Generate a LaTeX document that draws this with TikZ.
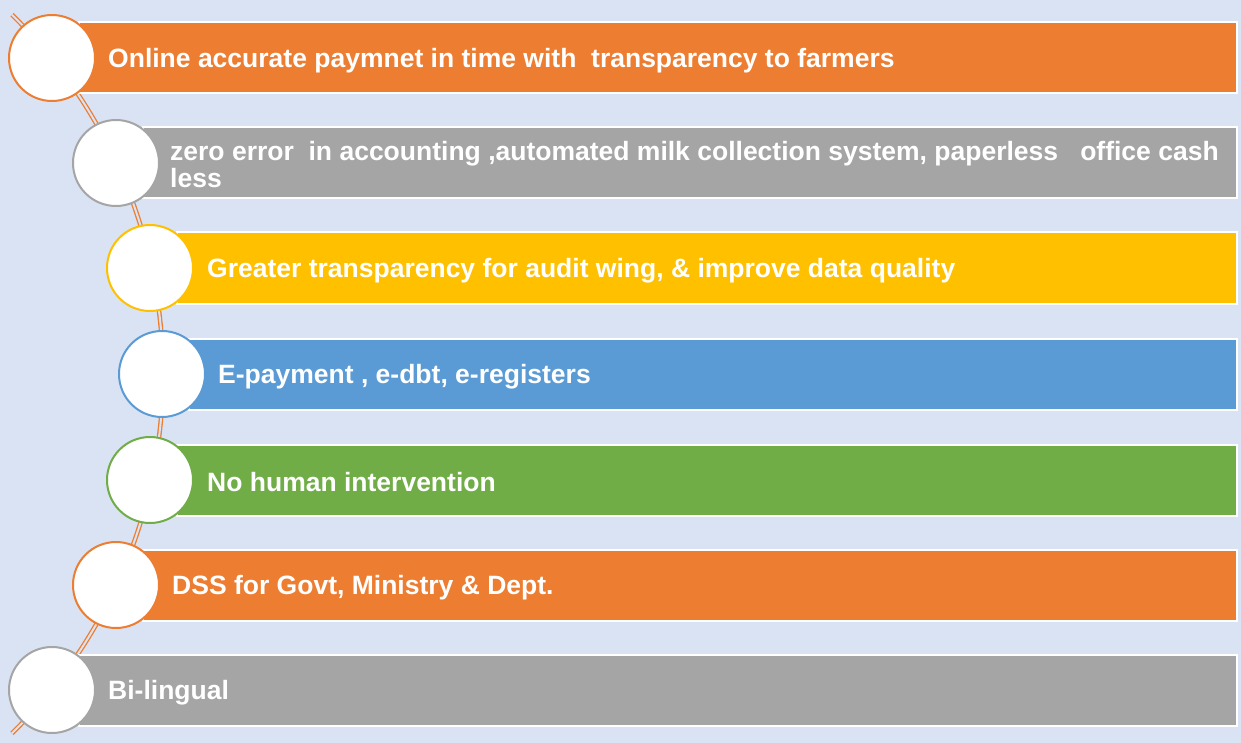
\documentclass[tikz,border=0pt]{standalone}
\usepackage{fontspec}
\setmainfont{Liberation Sans}
\definecolor{bg}{HTML}{DAE3F3}
\definecolor{cOr}{HTML}{ED7D31}
\definecolor{cGr}{HTML}{A5A5A5}
\definecolor{cYe}{HTML}{FFC000}
\definecolor{cBl}{HTML}{5B9BD5}
\definecolor{cGn}{HTML}{70AD47}
\begin{document}
\begin{tikzpicture}[x=1pt,y=-1pt,
  barbox/.style={draw=white,line width=2pt,rectangle,minimum height=71pt,inner sep=0pt,anchor=west},
  dot/.style={circle,draw=#1,fill=white,line width=2pt,minimum size=86pt,inner sep=0pt},
  lab/.style={text=white,anchor=west,inner sep=0pt,font=\fontsize{26.5}{27}\selectfont\bfseries,align=left}]
\fill[bg] (0,0) rectangle (1241,743);
\useasboundingbox (0,0) rectangle (1241,743);
\begin{scope}
\clip (0,0) rectangle (1241,743);
\draw[cOr,line width=1.3pt,double=bg,double distance=2pt] (-340,374) ++(-45.6:503) arc[start angle=-45.6,end angle=45.6,radius=503];
\end{scope}
% bars
\foreach \i/\cx/\cy/\col in {1/52/58/cOr,2/116/163/cGr,3/150/268/cYe,4/162/374/cBl,5/150/480/cGn,6/116/585/cOr,7/52/690/cGr}{
  \pgfmathsetmacro{\w}{1236-\cx-26}
  \node[barbox,fill=\col,minimum width=\w pt] (b\i) at (\cx+26,\cy) {};
  \node[dot=\col] (c\i) at (\cx,\cy) {};
}
\node[lab] (t1) at (108,60.5) {Online accurate paymnet in time with\ \ transparency to farmers};
\node[lab] (t2) at (170,165) {zero error\ \ in accounting ,automated milk collection system, paperless\ \ \ office cash\\less};
\node[lab] (t3) at (207,271) {Greater transparency for audit wing, \& improve data quality};
\node[lab] (t4) at (218,376.5) {E-payment , e-dbt, e-registers};
\node[lab] (t5) at (207,482) {No human intervention};
\node[lab] (t6) at (172,587.5) {DSS for Govt, Ministry \& Dept.};
\node[lab] (t7) at (108,692.5) {Bi-lingual};
\end{tikzpicture}
\end{document}
